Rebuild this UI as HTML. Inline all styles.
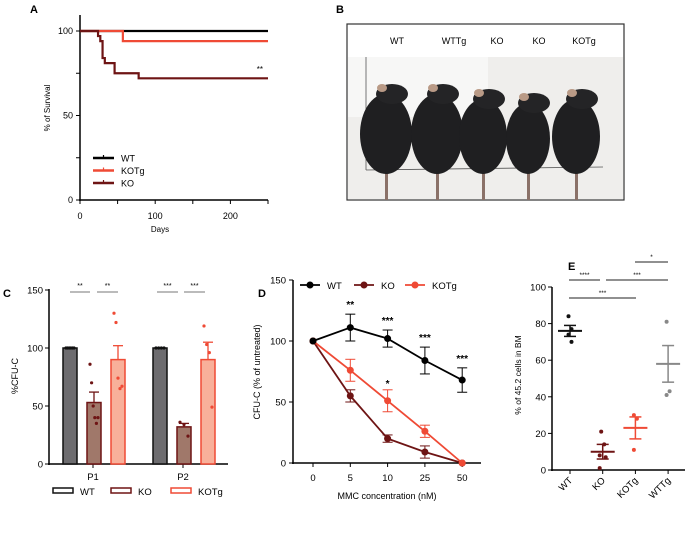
<!DOCTYPE html>
<html><head><meta charset="utf-8"><style>
body{margin:0;background:#fff;}
svg{display:block;font-family:"Liberation Sans",Arial,sans-serif;}
</style></head><body>
<svg id="fig" width="685" height="533" viewBox="0 0 685 533">
<g id="pA"></g>
<g id="pB"></g>
<g id="pC"></g>
<g id="pD"></g>
<g id="pE"></g>
</svg>
<script>
// ===== Panel A data =====
const survDaysWT=[0,250];const survWT=[100,100];
const survDaysKOTg=[0,57,57,250];const survKOTg=[100,100,94,94];
const survDaysKO=[0,24,24,27,27,30,30,33,33,46,46,78,78,250];
const survKO=[100,100,97,97,94,94,84,84,81,81,75,75,72,72];
const aXTicks=[0,100,200];const aYTicks=[0,50,100];
// ===== Panel C data =====
const cGroups=['P1','P2'];
const cSeries=['WT','KO','KOTg'];
const cMeansP1=[100,53,90];const cMeansP2=[100,32,90];
const cErrP1=[0,9,12];const cErrP2=[0,3,15];
const cDotsP1=[[100,100,100,100,100,100],[86,70,50,40,35,40],[130,122,74,65,67]];
const cDotsP2=[[100,100,100,100],[36,34,24],[119,103,96,49]];
const cYTicks=[0,50,100,150];
// ===== Panel D data =====
const dConc=['0','5','10','25','50'];
const dWT=[100,111,102,84,68];const dWTerr=[0,11,7,11,10];
const dKO=[100,55,20,9,0];const dKOerr=[0,5,3,5,0];
const dKOTg=[100,76,51,26,0];const dKOTgerr=[0,9,9,5,0];
const dSig=['','**','***','***','***'];
const dYTicks=[0,50,100,150];
// ===== Panel E data =====
const eCats=['WT','KO','KOTg','WTTg'];
const eMeans=[76,10,23,58];const eErr=[3,4,6,10];
const eDots=[[84,77,74,70],[21,14,8,7,1],[30,28,11],[81,43,41]];
const eYTicks=[0,20,40,60,80,100];

const NS='http://www.w3.org/2000/svg';
function mk(parent,tag,attrs,text){const e=document.createElementNS(NS,tag);for(const k in attrs)e.setAttribute(k,attrs[k]);if(text!==undefined)e.textContent=text;parent.appendChild(e);return e;}
const BLACK='#000',DARK='#6e1414',RED='#ef4a35',SALMON='#f8b09a',GREY='#6d6c6f';

// ===== Panel A =====
(function(){
const g=document.getElementById('pA');
const x=d=>80+d*(268-80)/250, y=v=>200-v*1.69;
let t=mk(g,'text',{x:30,y:13,'font-size':11,'font-weight':'bold'},'A');
mk(g,'line',{x1:80,y1:15,x2:80,y2:201,stroke:'#000','stroke-width':1.5});
mk(g,'line',{x1:79,y1:200,x2:268,y2:200,stroke:'#000','stroke-width':1.5});
[0,25,50,75,100].forEach(v=>mk(g,'line',{x1:76,x2:80,y1:y(v),y2:y(v),stroke:'#000'}));
aYTicks.forEach(v=>{const e=mk(g,'text',{x:73,y:y(v)+3,'font-size':9,'text-anchor':'end'},v);});
[0,50,100,150,200,250].forEach(v=>mk(g,'line',{x1:x(v),x2:x(v),y1:200,y2:204,stroke:'#000'}));
aXTicks.forEach(v=>{const e=mk(g,'text',{x:x(v),y:219,'font-size':9,'text-anchor':'middle'},v);});
t=mk(g,'text',{x:160,y:232,'font-size':8,'text-anchor':'middle'},'Days');
t=mk(g,'text',{x:50,y:108,'font-size':8,'text-anchor':'middle',transform:'rotate(-90 50 108)'},'% of Survival');
function path(xs,ys,c,n){const p=mk(g,'path',{d:xs.map((d,i)=>(i?'L':'M')+x(d)+' '+y(ys[i])).join(''),fill:'none',stroke:c,'stroke-width':2.2});}
path(survDaysWT,survWT,BLACK,'survival-wt');
path(survDaysKOTg,survKOTg,RED,'survival-kotg');
path(survDaysKO,survKO,DARK,'survival-ko');
mk(g,'text',{x:263,y:72,'font-size':8,'text-anchor':'end'},'**');
[['WT',BLACK],['KOTg',RED],['KO',DARK]].forEach((l,i)=>{const yy=158+i*12.5;const lg=mk(g,'g',{});mk(lg,'line',{x1:93,x2:114,y1:yy,y2:yy,stroke:l[1],'stroke-width':2.5});mk(lg,'line',{x1:103.5,x2:103.5,y1:yy-3,y2:yy,stroke:l[1],'stroke-width':1.2});mk(lg,'text',{x:121,y:yy+3.5,'font-size':9},l[0]);});
})();

// ===== Panel B =====
(function(){
const g=document.getElementById('pB');
let t=mk(g,'text',{x:336,y:13,'font-size':11,'font-weight':'bold'},'B');
mk(g,'rect',{x:347,y:24,width:277,height:176,fill:'#fff',stroke:'#333','stroke-width':1.2});
mk(g,'rect',{x:348,y:57,width:275,height:142,fill:'#efeeec'});
mk(g,'rect',{x:348,y:57,width:140,height:60,fill:'#f7f7f6'});
mk(g,'line',{x1:366,y1:57,x2:366,y2:170,stroke:'#555','stroke-width':0.8});
mk(g,'line',{x1:366,y1:170,x2:603,y2:167,stroke:'#555','stroke-width':0.8});
const labs=['WT','WTTg','KO','KO','KOTg'],lx=[397,454,497,539,584];
labs.forEach((l,i)=>{const e=mk(g,'text',{x:lx[i],y:44,'font-size':9,'text-anchor':'middle'},l);});
const mx=[386,437,483,528,576],mw=[26,26,24,22,24],mt=[90,90,95,99,95];
mx.forEach((c,i)=>{const m=mk(g,'g',{});
mk(m,'rect',{x:c-1,y:165,width:3,height:35,fill:'#8a7168'});
mk(m,'ellipse',{cx:c,cy:(mt[i]+170)/2+4,rx:mw[i],ry:(170-mt[i])/2,fill:'#1f1f21'});
mk(m,'ellipse',{cx:c+6,cy:mt[i]+4,rx:16,ry:10,fill:'#242426'});
mk(m,'ellipse',{cx:c-4,cy:mt[i]-2,rx:5,ry:4,fill:'#b99a86'});});
})();

// ===== Panel C =====
(function(){
const g=document.getElementById('pC');
const y=v=>464-v*(174/150);
let t=mk(g,'text',{x:3,y:297,'font-size':11,'font-weight':'bold'},'C');
mk(g,'line',{x1:49,y1:289,x2:49,y2:465,stroke:'#000','stroke-width':1.5});
mk(g,'line',{x1:48,y1:464,x2:228,y2:464,stroke:'#000','stroke-width':1.5});
cYTicks.forEach(v=>{mk(g,'line',{x1:45,x2:49,y1:y(v),y2:y(v),stroke:'#000'});const e=mk(g,'text',{x:43,y:y(v)+3.5,'font-size':9.5,'text-anchor':'end'},v);});
t=mk(g,'text',{x:18,y:376,'font-size':9,'text-anchor':'middle',transform:'rotate(-90 18 376)'},'%CFU-C');
const fills=[GREY,'#a0786a',SALMON],strokes=['#111',DARK,RED],dotc=['#111',DARK,RED];
const gx=[93,183];
[[cMeansP1,cErrP1,cDotsP1],[cMeansP2,cErrP2,cDotsP2]].forEach((d,gi)=>{
mk(g,'line',{x1:gx[gi],x2:gx[gi],y1:464,y2:468,stroke:'#000'});
const e=mk(g,'text',{x:gx[gi],y:480,'font-size':9.5,'text-anchor':'middle'},cGroups[gi]);
d[0].forEach((m,si)=>{const cx=gx[gi]-23+si*24;
const r=mk(g,'rect',{x:cx-7,y:y(m),width:14,height:464-y(m),fill:fills[si],stroke:strokes[si],'stroke-width':1.5});
if(d[1][si]>0){mk(g,'line',{x1:cx,x2:cx,y1:y(m),y2:y(m+d[1][si]),stroke:strokes[si],'stroke-width':1.3});mk(g,'line',{x1:cx-5,x2:cx+5,y1:y(m+d[1][si]),y2:y(m+d[1][si]),stroke:strokes[si],'stroke-width':1.3});}
d[2][si].forEach((v,k)=>{const n=d[2][si].length;mk(g,'circle',{cx:cx-4+(n>1?8*k/(n-1):0),cy:y(v),r:1.6,fill:dotc[si]});});
});});
[[70,90,'**'],[97,118,'**'],[157,178,'***'],[184,205,'***']].forEach(s=>{mk(g,'line',{x1:s[0],x2:s[1],y1:292,y2:292,stroke:'#777','stroke-width':1});mk(g,'text',{x:(s[0]+s[1])/2,y:288,'font-size':7,'text-anchor':'middle'},s[2]);});
cSeries.forEach((s,i)=>{const lx=[53,111,171][i];const lg=mk(g,'g',{});mk(lg,'rect',{x:lx,y:488,width:20,height:5,fill:'#fff',stroke:strokes[i],'stroke-width':1.5});mk(lg,'text',{x:lx+27,y:495,'font-size':9.5},s);});
})();

// ===== Panel D =====
(function(){
const g=document.getElementById('pD');
const y=v=>463-v*1.22, x=i=>313+i*37.3;
let t=mk(g,'text',{x:258,y:297,'font-size':11,'font-weight':'bold'},'D');
mk(g,'line',{x1:293,y1:y(150),x2:293,y2:464,stroke:'#000','stroke-width':1.5});
mk(g,'line',{x1:292,y1:463,x2:481,y2:463,stroke:'#000','stroke-width':1.5});
dYTicks.forEach(v=>{mk(g,'line',{x1:289,x2:293,y1:y(v),y2:y(v),stroke:'#000'});const e=mk(g,'text',{x:286,y:y(v)+3.5,'font-size':9.5,'text-anchor':'end'},v);});
dConc.forEach((c,i)=>{mk(g,'line',{x1:x(i),x2:x(i),y1:463,y2:467,stroke:'#000'});const e=mk(g,'text',{x:x(i),y:481,'font-size':9.5,'text-anchor':'middle'},c);});
t=mk(g,'text',{x:387,y:499,'font-size':9,'text-anchor':'middle'},'MMC concentration (nM)');
t=mk(g,'text',{x:260,y:372,'font-size':9,'text-anchor':'middle',transform:'rotate(-90 260 372)'},'CFU-C  (% of untreated)');
function series(vals,errs,c,n){const s=mk(g,'g',{});
mk(s,'polyline',{points:vals.map((v,i)=>x(i)+','+y(v)).join(' '),fill:'none',stroke:c,'stroke-width':1.8});
vals.forEach((v,i)=>{if(errs[i]>0){mk(s,'line',{x1:x(i),x2:x(i),y1:y(v-errs[i]),y2:y(v+errs[i]),stroke:c,'stroke-width':1});[v-errs[i],v+errs[i]].forEach(w=>mk(s,'line',{x1:x(i)-5,x2:x(i)+5,y1:y(w),y2:y(w),stroke:c,'stroke-width':1}));}
const p=mk(s,'circle',{cx:x(i),cy:y(v),r:3.5,fill:c});});}
series(dKO,dKOerr,DARK,'ko');series(dKOTg,dKOTgerr,RED,'kotg');series(dWT,dWTerr,BLACK,'wt');
dSig.forEach((s,i)=>{if(s)mk(g,'text',{x:x(i),y:y(dWT[i]+dWTerr[i])-6,'font-size':10,'text-anchor':'middle','font-weight':'bold'},s);});
mk(g,'text',{x:x(2),y:y(dKOTg[2]+dKOTgerr[2])-3,'font-size':10,'text-anchor':'middle','font-weight':'bold'},'*');
[['WT',BLACK,310],['KO',DARK,364],['KOTg',RED,415]].forEach(l=>{const lg=mk(g,'g',{});mk(lg,'line',{x1:l[2]-10,x2:l[2]+10,y1:285,y2:285,stroke:l[1],'stroke-width':1.8});mk(lg,'circle',{cx:l[2],cy:285,r:3.5,fill:l[1]});mk(lg,'text',{x:l[2]+17,y:289,'font-size':9.5},l[0]);});
})();

// ===== Panel E =====
(function(){
const g=document.getElementById('pE');
const y=v=>470-v*1.83, x=i=>570+i*32.7;
let t=mk(g,'text',{x:568,y:270,'font-size':11,'font-weight':'bold'},'E');
mk(g,'line',{x1:552,y1:y(100),x2:552,y2:471,stroke:'#000','stroke-width':1.5});
mk(g,'line',{x1:551,y1:470,x2:685,y2:470,stroke:'#000','stroke-width':1.5});
eYTicks.forEach(v=>{mk(g,'line',{x1:548,x2:552,y1:y(v),y2:y(v),stroke:'#000'});const e=mk(g,'text',{x:546,y:y(v)+3.5,'font-size':9.5,'text-anchor':'end'},v);});
t=mk(g,'text',{x:521,y:375,'font-size':8.5,'text-anchor':'middle',transform:'rotate(-90 521 375)'},'% of 45.2 cells in BM');
const cols=['#111',DARK,RED,'#888'];
eCats.forEach((c,i)=>{mk(g,'line',{x1:x(i),x2:x(i),y1:470,y2:474,stroke:'#000'});
const e=mk(g,'text',{x:x(i)+3,y:481,'font-size':9.5,'text-anchor':'end',transform:`rotate(-45 ${x(i)+3} 481)`},c);
const s=mk(g,'g',{});
eDots[i].forEach((v,k)=>mk(s,'circle',{cx:x(i)+(k%2?1.5:-1.5)*(i==1&&k>1?2:1),cy:y(v),r:2,fill:cols[i]}));
mk(s,'line',{x1:x(i)-12,x2:x(i)+12,y1:y(eMeans[i]),y2:y(eMeans[i]),stroke:cols[i],'stroke-width':2});
mk(s,'line',{x1:x(i),x2:x(i),y1:y(eMeans[i]-eErr[i]),y2:y(eMeans[i]+eErr[i]),stroke:cols[i],'stroke-width':1.5});
[eMeans[i]-eErr[i],eMeans[i]+eErr[i]].forEach(w=>mk(s,'line',{x1:x(i)-6,x2:x(i)+6,y1:y(w),y2:y(w),stroke:cols[i],'stroke-width':1.5}));});
[[635,668,262,'*'],[569,600,280,'****'],[606,668,280,'***'],[569,636,298,'***']].forEach(s=>{mk(g,'line',{x1:s[0],x2:s[1],y1:s[2],y2:s[2],stroke:'#222','stroke-width':0.9});mk(g,'text',{x:(s[0]+s[1])/2,y:s[2]-3,'font-size':6.5,'text-anchor':'middle'},s[3]);});
})();
</script>
</body></html>
